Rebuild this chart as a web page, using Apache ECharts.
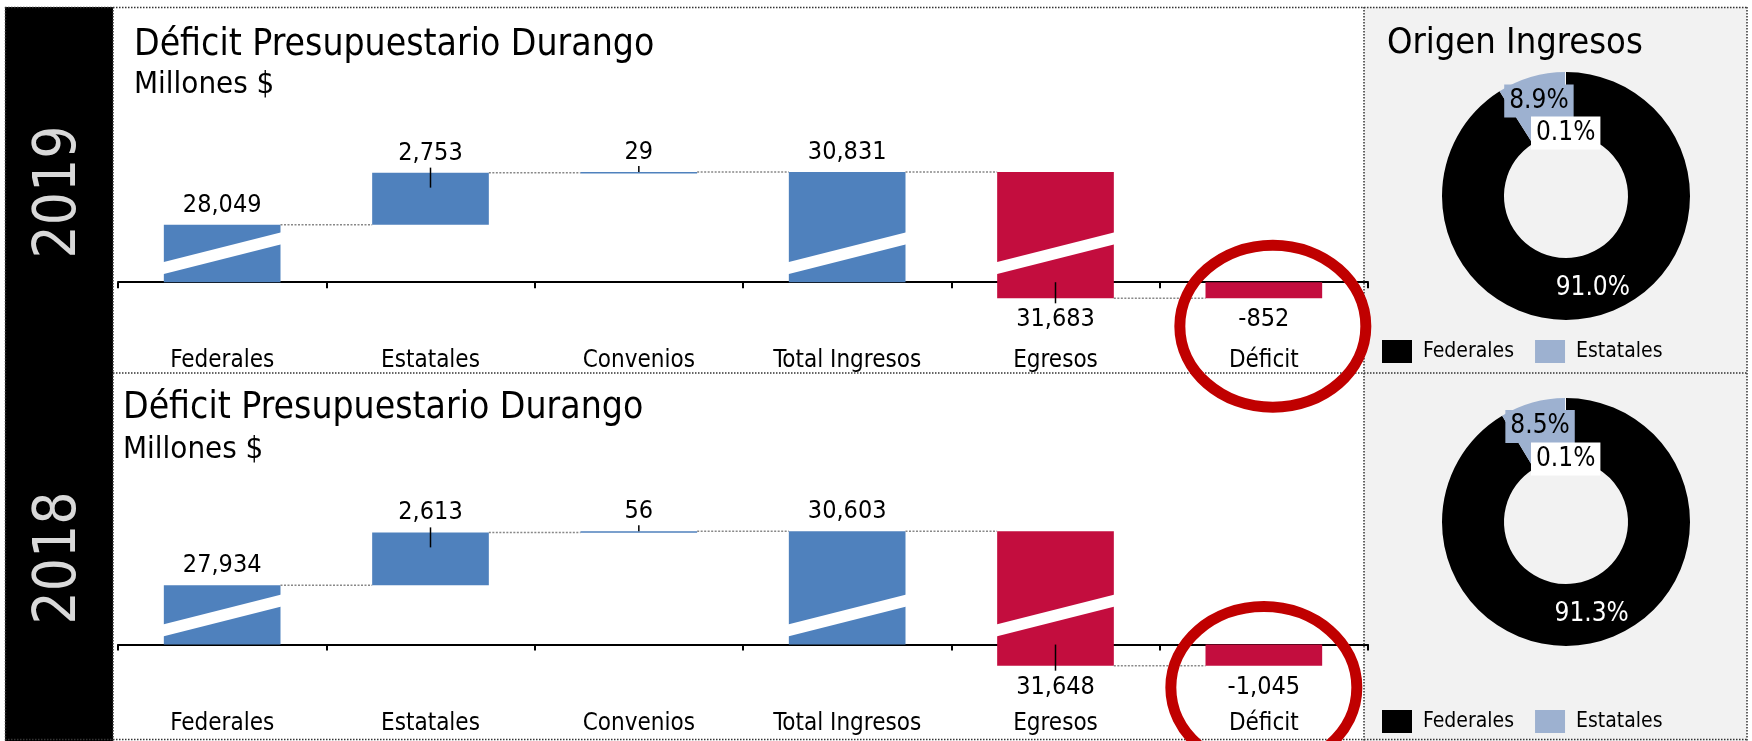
<!DOCTYPE html>
<html>
<head>
<meta charset="utf-8">
<title>Déficit Presupuestario Durango</title>
<script src="https://cdn.jsdelivr.net/npm/echarts@6/dist/echarts.min.js"></script>
<style>
  body { margin: 0; background: #fff; }
  #grafica { width: 1752px; height: 741px; }
</style>
</head>
<body>
<div id="grafica"></div>
<script>
/*datos begin*/
var categorias = ['Federales', 'Estatales', 'Convenios', 'Total Ingresos', 'Egresos', 'Déficit'];
var tipos = ['sube', 'sube', 'sube', 'total', 'baja', 'total'];
var valores2019 = [28049, 2753, 29, 30831, 31683, -852];
var valores2018 = [27934, 2613, 56, 30603, 31648, -1045];

var origenNombres = ['Federales', 'Estatales', 'Convenios'];
var origen2019 = [91.0, 8.9, 0.1];
var origen2018 = [91.3, 8.5, 0.1];
/*datos end*/

var LETRA = "'DejaVu Sans Condensed', 'DejaVu Sans', sans-serif";
var AZUL = '#4F81BD', ROJO = '#C30D3E';
var CORTE = 20000, DESPLAZA = 25000;   // eje cortado: lo que pasa de CORTE se baja DESPLAZA

function corte(v) {
    return v > CORTE ? v - DESPLAZA : v;
}

// arma [indice, inicio, fin, valor, roto] para la cascada
function armarCascada(valores) {
    var acum = 0, out = [];
    valores.forEach(function (v, i) {
        var ini, fin;
        if (tipos[i] === 'sube') { ini = acum; fin = acum + v; }
        else if (tipos[i] === 'baja') { ini = acum; fin = acum - v; }
        else { ini = 0; fin = v; }
        acum = fin;
        var roto = ((ini > CORTE) !== (fin > CORTE)) ? 1 : 0;
        out.push([i, corte(ini), corte(fin), v, roto]);
    });
    return out;
}

function serieCascada(valores, g, elipse) {
    var n = valores.length;
    return {
        type: 'custom',
        name: 'cascada' + g,
        xAxisIndex: g,
        yAxisIndex: g,
        clip: false,
        silent: true,
        z: 5,
        encode: { x: 0, y: [1, 2] },
        data: armarCascada(valores),
        renderItem: function (params, api) {
            var i = api.value(0), ini = api.value(1), fin = api.value(2);
            var valor = api.value(3), roto = api.value(4);
            var paso = api.size([1, 0])[0];
            var w = paso * 0.56;
            var pIni = api.coord([i, ini]), pFin = api.coord([i, fin]);
            var cero = api.coord([i, 0])[1];
            var cx = pIni[0], x0 = cx - w / 2, x1 = cx + w / 2;
            var yTop = Math.min(pIni[1], pFin[1]), yBot = Math.max(pIni[1], pFin[1]);
            var h = Math.max(yBot - yTop, 1.5);
            var color = i >= 4 ? ROJO : AZUL;
            var hijos = [];
            hijos.push({ type: 'rect', shape: { x: x0, y: yTop, width: w, height: h }, style: { fill: color } });
            if (roto) {
                hijos.push({ type: 'polygon', shape: { points: [
                    [x0 - 1, cero - 8], [x1 + 1, cero - 38], [x1 + 1, cero - 50], [x0 - 1, cero - 20]
                ] }, style: { fill: '#fff' } });
            }
            // conector punteado hacia la siguiente barra
            if (i < n - 1) {
                hijos.push({ type: 'line', shape: { x1: x1, y1: pFin[1], x2: cx + paso - w / 2, y2: pFin[1] },
                    style: { stroke: '#888', lineWidth: 1.5, lineDash: [2, 1.5] } });
            }
            // lineas guia
            if (i === 1) {
                hijos.push({ type: 'line', shape: { x1: cx, y1: yTop - 5, x2: cx, y2: yTop + 15 }, style: { stroke: '#000', lineWidth: 1.5 } });
            } else if (i === 2) {
                hijos.push({ type: 'line', shape: { x1: cx, y1: yTop - 6, x2: cx, y2: yTop }, style: { stroke: '#000', lineWidth: 1.5 } });
            } else if (i === 4) {
                hijos.push({ type: 'line', shape: { x1: cx, y1: cero, x2: cx, y2: yBot + 5 }, style: { stroke: '#000', lineWidth: 1.5 } });
            }
            var abajo = fin < ini;
            hijos.push({ type: 'text', x: cx, y: abajo ? yBot + 9 : yTop - 7,
                style: { text: valor.toLocaleString('en-US'), fill: '#000', fontSize: 25, fontFamily: LETRA,
                    align: 'center', verticalAlign: abajo ? 'top' : 'bottom' } });
            if (i === n - 1) {
                hijos.push({ type: 'ellipse', shape: { cx: cx + elipse[0], cy: cero + elipse[1], rx: 93, ry: 81 },
                    style: { fill: 'none', stroke: '#C00000', lineWidth: 11 }, z2: 10 });
            }
            return { type: 'group', children: hijos };
        }
    };
}

function serieOrigen(valores, centro) {
    var colores = ['#000000', '#9DB1D0', '#FFFFFF'];
    var etiquetas = [
        { color: '#fff' },
        { color: '#000', backgroundColor: '#9DB1D0', padding: [4, 5, 3, 5] },
        { color: '#000', backgroundColor: '#fff', padding: [4, 5, 3, 5], overflow: 'none' }
    ];
    var desplaza = [0, -3, 33];
    return {
        type: 'pie',
        center: centro,
        radius: [62, 124],
        startAngle: 90,
        clockwise: true,
        avoidLabelOverlap: false,
        minShowLabelAngle: 0,
        silent: true,
        label: { show: true, position: 'inside', fontFamily: LETRA, fontSize: 26, overflow: 'none',
            formatter: function (p) { return p.value.toFixed(1) + '%'; } },
        labelLine: { show: false },
        labelLayout: function (p) {
            return { dy: desplaza[p.dataIndex], hideOverlap: false };
        },
        itemStyle: { borderWidth: 0 },
        emphasis: { disabled: true },
        data: origenNombres.map(function (nom, k) {
            return { name: nom, value: valores[k], itemStyle: { color: colores[k] }, label: etiquetas[k] };
        })
    };
}

function ejeX(g, margen) {
    return {
        type: 'category', gridIndex: g, data: categorias,
        axisLine: { onZero: true, lineStyle: { color: '#000', width: 2 } },
        axisTick: { show: true, length: 6, lineStyle: { color: '#000', width: 2 } },
        axisLabel: { margin: margen, fontSize: 24, color: '#000', fontFamily: LETRA },
        splitLine: { show: false }
    };
}

function ejeY(g) {
    return { type: 'value', gridIndex: g, min: -2000, max: 7000, show: false, splitLine: { show: false } };
}

function punteada(x1, y1, x2, y2) {
    return { type: 'line', z: 1, shape: { x1: x1, y1: y1, x2: x2, y2: y2 },
        style: { stroke: '#333', lineWidth: 1.5, lineDash: [1.5, 1.5] } };
}

function anio(texto, y) {
    return { type: 'text', x: 60, y: y, rotation: Math.PI / 2, z: 1,
        style: { text: texto, fill: '#D9D9D9', fontSize: 58, fontFamily: LETRA, align: 'center', verticalAlign: 'middle' } };
}

var chart = echarts.init(document.getElementById('grafica'));
var option = {
    animation: false,
    backgroundColor: '#fff',
    textStyle: { fontFamily: LETRA },
    title: [
        { text: 'Déficit Presupuestario Durango', subtext: 'Millones $', left: 134, top: 27, padding: 0, itemGap: 5,
          textStyle: { fontFamily: LETRA, fontSize: 37, fontWeight: 'normal', color: '#000' },
          subtextStyle: { fontFamily: LETRA, fontSize: 31, color: '#000' } },
        { text: 'Déficit Presupuestario Durango', subtext: 'Millones $', left: 123, top: 390, padding: 0, itemGap: 7,
          textStyle: { fontFamily: LETRA, fontSize: 37, fontWeight: 'normal', color: '#000' },
          subtextStyle: { fontFamily: LETRA, fontSize: 31, color: '#000' } },
        { text: 'Origen Ingresos', left: 1387, top: 26, padding: 0,
          textStyle: { fontFamily: LETRA, fontSize: 36, fontWeight: 'normal', color: '#000' } }
    ],
    legend: [
        { left: 1377, top: 335, itemWidth: 30, itemHeight: 23, itemGap: 21, icon: 'rect', selectedMode: false,
          data: ['Federales', 'Estatales'], textStyle: { fontFamily: LETRA, fontSize: 21, color: '#000', padding: [0, 0, 0, 6] } },
        { left: 1377, top: 705, itemWidth: 30, itemHeight: 23, itemGap: 21, icon: 'rect', selectedMode: false,
          data: ['Federales', 'Estatales'], textStyle: { fontFamily: LETRA, fontSize: 21, color: '#000', padding: [0, 0, 0, 6] } }
    ],
    grid: [
        { left: 118, top: 150, width: 1250, height: 170, containLabel: false, outerBoundsMode: 'none' },
        { left: 118, top: 503, width: 1250, height: 182, containLabel: false, outerBoundsMode: 'none' }
    ],
    xAxis: [ejeX(0, 29), ejeX(1, 27)],
    yAxis: [ejeY(0), ejeY(1)],
    graphic: [
        { type: 'rect', z: -10, shape: { x: 1364, y: 7, width: 383, height: 734 }, style: { fill: '#F2F2F2' } },
        { type: 'rect', z: -10, shape: { x: 5, y: 7, width: 108, height: 734 }, style: { fill: '#000' } },
        punteada(5, 7.5, 1747, 7.5),
        punteada(113, 373, 1747, 373),
        punteada(5, 739.5, 1747, 739.5),
        punteada(5.5, 7, 5.5, 741),
        punteada(113, 7, 113, 741),
        punteada(1364, 7, 1364, 741),
        punteada(1747, 7, 1747, 741),
        anio('2019', 192),
        anio('2018', 558)
    ],
    series: [
        serieCascada(valores2019, 0, [9, 44]),
        serieCascada(valores2018, 1, [0, 43]),
        serieOrigen(origen2019, [1566, 196]),
        serieOrigen(origen2018, [1566, 522])
    ]
};
chart.setOption(option);
</script>
</body>
</html>
